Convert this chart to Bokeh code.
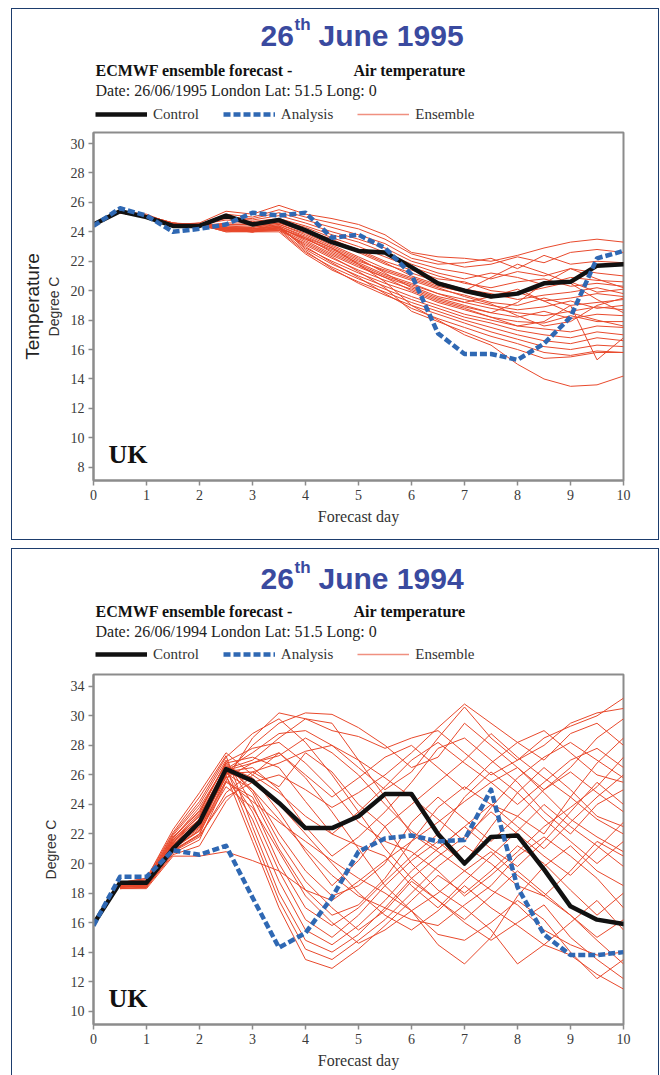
from bokeh.plotting import figure
from bokeh.models import (ColumnDataSource, Label, Legend, LegendItem, FixedTicker,
                          Range1d, LinearAxis)
from bokeh.layouts import column
from bokeh.embed import file_html
from bokeh.resources import INLINE

# ---------------- data ----------------
days = [0, 0.5, 1, 1.5, 2, 2.5, 3, 3.5, 4, 4.5, 5, 5.5, 6, 6.5, 7, 7.5, 8, 8.5, 9, 9.5, 10]
ens_days = [0.5, 1, 1.5, 2, 2.5, 3, 3.5, 4, 4.5, 5, 5.5, 6, 6.5, 7, 7.5, 8, 8.5, 9, 9.5, 10]
x_ticks = [0, 1, 2, 3, 4, 5, 6, 7, 8, 9, 10]

control_1995 = [24.5, 25.4, 25.0, 24.4, 24.4, 25.1, 24.5, 24.8, 24.1, 23.3, 22.7,
                22.6, 21.6, 20.5, 20.0, 19.6, 19.8, 20.5, 20.6, 21.7, 21.8]
analysis_1995 = [24.4, 25.6, 25.1, 24.0, 24.2, 24.5, 25.3, 25.1, 25.3, 23.6, 23.8,
                 22.9, 21.1, 17.1, 15.7, 15.7, 15.3, 16.4, 18.2, 22.2, 22.7]
ensemble_1995 = [
    [25.4, 25.2, 24.5, 24.6, 25.4, 25.2, 25.8, 25.2, 24.9, 24.5, 23.8, 22.6, 22.3, 22.2, 22.0, 22.4, 22.9, 23.3, 23.5, 23.3],
    [25.3, 25.1, 24.4, 24.5, 25.2, 25.0, 25.5, 25.0, 24.6, 24.2, 23.5, 22.5, 22.0, 21.6, 21.8, 22.3, 21.9, 22.6, 22.8, 22.6],
    [25.4, 25.1, 24.5, 24.4, 25.0, 24.9, 25.3, 24.8, 24.3, 23.8, 23.2, 22.2, 21.8, 21.9, 22.2, 21.5, 22.4, 21.8, 22.0, 21.9],
    [25.3, 25.0, 24.4, 24.5, 24.9, 24.8, 25.1, 24.6, 24.0, 23.5, 22.9, 22.0, 21.5, 21.2, 20.8, 21.3, 21.0, 21.5, 21.2, 21.0],
    [25.4, 25.1, 24.6, 24.5, 24.8, 24.7, 24.9, 24.4, 23.8, 23.3, 22.6, 21.8, 21.2, 20.8, 21.2, 20.9, 20.4, 20.9, 20.7, 20.6],
    [25.3, 25.0, 24.5, 24.4, 24.6, 24.6, 24.8, 24.3, 23.6, 23.0, 22.3, 21.6, 21.0, 20.5, 20.2, 20.6, 20.8, 20.3, 20.5, 20.3],
    [25.4, 25.1, 24.4, 24.5, 24.5, 24.5, 24.7, 24.2, 23.4, 22.8, 22.0, 21.4, 20.8, 20.6, 20.0, 19.8, 20.2, 20.6, 19.9, 20.1],
    [25.3, 25.0, 24.5, 24.4, 24.4, 24.4, 24.6, 24.0, 23.3, 22.6, 21.8, 21.2, 20.6, 20.1, 19.8, 19.4, 19.7, 19.9, 20.2, 19.8],
    [25.4, 25.1, 24.4, 24.6, 24.3, 24.3, 24.5, 23.9, 23.1, 22.3, 21.5, 20.9, 20.3, 19.9, 19.5, 19.9, 19.3, 19.5, 19.8, 19.6],
    [25.3, 25.0, 24.5, 24.5, 24.2, 24.2, 24.4, 23.7, 22.9, 22.1, 21.3, 20.7, 20.1, 19.7, 19.2, 19.0, 19.5, 19.0, 19.2, 19.4],
    [25.4, 25.1, 24.6, 24.4, 24.1, 24.1, 24.3, 23.5, 22.7, 21.9, 21.1, 20.5, 19.8, 19.4, 19.0, 18.7, 18.9, 19.3, 18.8, 19.0],
    [25.3, 25.0, 24.4, 24.5, 24.2, 24.0, 24.2, 23.3, 22.4, 21.6, 20.9, 20.3, 19.6, 19.2, 18.8, 18.5, 18.3, 18.6, 18.9, 18.7],
    [25.4, 25.1, 24.5, 24.4, 24.1, 24.1, 24.2, 23.1, 22.2, 21.4, 20.7, 20.1, 19.4, 18.9, 18.5, 18.2, 18.6, 18.1, 18.4, 18.3],
    [25.3, 25.0, 24.5, 24.5, 24.0, 24.0, 24.3, 22.9, 22.0, 21.2, 20.5, 19.9, 19.2, 18.7, 18.2, 17.9, 17.8, 18.3, 17.9, 17.9],
    [25.4, 25.1, 24.4, 24.4, 24.2, 24.2, 24.4, 22.8, 21.8, 21.0, 20.3, 19.6, 19.0, 18.4, 18.0, 17.6, 17.4, 17.2, 17.6, 17.5],
    [25.3, 25.0, 24.5, 24.5, 24.3, 24.1, 24.1, 22.6, 21.6, 20.8, 20.1, 19.4, 18.8, 18.2, 17.8, 17.3, 17.0, 16.8, 17.2, 17.0],
    [25.4, 25.1, 24.6, 24.4, 24.1, 24.0, 24.0, 22.5, 21.4, 20.6, 19.9, 19.2, 18.6, 18.0, 17.5, 17.0, 16.6, 16.4, 16.8, 16.6],
    [25.3, 25.0, 24.4, 24.5, 24.0, 24.1, 24.2, 22.7, 21.5, 20.5, 19.7, 19.0, 18.4, 17.8, 17.2, 16.7, 16.2, 16.0, 16.3, 16.2],
    [25.4, 25.1, 24.5, 24.4, 24.2, 24.0, 24.3, 23.0, 21.9, 20.9, 19.8, 18.8, 18.1, 17.5, 16.9, 16.4, 15.8, 15.6, 15.9, 15.8],
    [25.3, 25.0, 24.5, 24.5, 24.1, 24.0, 24.1, 23.2, 22.3, 21.3, 20.2, 18.6, 17.9, 17.2, 16.5, 16.0, 15.4, 15.5, 15.8, 15.8],
    [25.4, 25.1, 24.4, 24.4, 24.3, 24.1, 24.2, 23.6, 22.9, 21.8, 20.6, 19.0, 18.0, 17.0, 16.3, 15.0, 14.0, 13.5, 13.6, 14.2],
    [25.3, 25.0, 24.5, 24.5, 24.4, 24.3, 24.6, 24.1, 23.5, 22.7, 21.9, 21.0, 20.4, 20.0, 20.9, 21.8, 21.2, 20.5, 19.4, 18.5],
    [25.4, 25.1, 24.5, 24.4, 24.2, 24.2, 24.5, 23.8, 23.0, 22.2, 21.2, 20.2, 19.5, 19.0, 18.5, 19.2, 20.5, 21.5, 20.8, 20.2],
    [25.3, 25.0, 24.4, 24.5, 24.1, 24.0, 24.3, 23.4, 22.5, 21.7, 20.9, 20.0, 19.3, 18.8, 18.2, 17.6, 17.9, 19.0, 15.3, 16.8],
    [25.4, 25.1, 24.6, 24.4, 24.2, 24.1, 24.4, 23.6, 22.6, 21.8, 21.0, 20.4, 19.8, 19.2, 19.6, 20.1, 19.3, 18.5, 18.0, 17.6],
    [25.3, 25.0, 24.5, 24.5, 24.3, 24.2, 24.3, 23.5, 22.8, 22.0, 21.4, 20.8, 20.2, 19.6, 19.1, 18.3, 17.6, 17.9, 19.0, 19.5],
]

control_1994 = [15.9, 18.7, 18.7, 21.0, 22.8, 26.4, 25.6, 24.1, 22.4, 22.4, 23.2,
                24.7, 24.7, 22.0, 20.0, 21.8, 21.9, 19.6, 17.1, 16.2, 15.9]
analysis_1994 = [15.8, 19.1, 19.1, 20.9, 20.6, 21.2, 17.7, 14.3, 15.3, 17.7, 20.8,
                 21.7, 21.9, 21.5, 21.6, 25.0, 18.4, 15.2, 13.8, 13.8, 14.0]
ensemble_1994 = [
    [18.5, 18.6, 20.8, 22.0, 25.6, 28.5, 30.2, 29.8, 29.0, 28.6, 27.8, 28.5, 29.0, 27.5, 26.0, 27.0, 28.5, 29.3, 30.0, 31.2],
    [18.4, 18.5, 21.1, 22.5, 26.0, 28.0, 29.5, 30.2, 30.1, 29.2, 28.0, 26.5, 27.2, 29.5, 28.0, 26.5, 25.0, 26.5, 28.5, 29.8],
    [18.6, 18.8, 21.5, 23.0, 26.4, 27.5, 28.8, 29.0, 28.0, 26.5, 25.0, 26.2, 28.5, 30.6, 28.5, 27.0, 28.0, 29.5, 30.2, 30.5],
    [18.5, 18.4, 21.3, 22.8, 25.8, 26.8, 27.5, 26.0, 24.5, 25.8, 27.2, 28.0, 26.5, 25.0, 26.8, 28.2, 29.0, 27.5, 26.0, 25.5],
    [18.7, 18.9, 21.8, 23.5, 26.8, 27.2, 26.5, 24.2, 22.0, 23.5, 25.2, 27.0, 28.2, 26.8, 25.5, 24.0, 25.5, 27.0, 27.8, 26.5],
    [18.4, 18.6, 21.0, 22.2, 26.2, 26.5, 25.0, 22.5, 20.5, 21.8, 23.5, 25.5, 27.8, 28.5, 27.0, 25.5, 23.5, 22.0, 24.0, 25.0],
    [18.6, 18.7, 21.6, 23.2, 26.6, 25.8, 23.5, 20.8, 18.5, 20.2, 22.5, 24.0, 25.5, 27.0, 28.8, 27.2, 25.8, 24.5, 23.0, 22.0],
    [18.5, 18.5, 21.4, 23.0, 26.1, 25.0, 22.0, 19.5, 17.8, 18.5, 20.0, 22.8, 24.5, 23.0, 21.5, 23.2, 25.0, 26.2, 24.8, 23.5],
    [18.3, 18.4, 20.7, 21.6, 25.5, 24.5, 21.0, 18.2, 16.5, 17.2, 19.0, 21.5, 23.8, 25.2, 24.0, 22.5, 21.0, 22.8, 24.5, 26.0],
    [18.6, 18.8, 21.9, 24.0, 27.0, 24.0, 20.0, 17.0, 15.8, 17.0, 18.8, 20.5, 22.0, 24.5, 26.2, 24.8, 23.0, 21.5, 20.0, 21.5],
    [18.5, 18.6, 21.2, 22.6, 26.3, 23.5, 19.5, 16.2, 15.0, 16.5, 18.5, 20.2, 21.5, 20.0, 22.5, 24.8, 26.5, 25.0, 23.2, 22.5],
    [18.4, 18.5, 20.9, 22.0, 25.9, 23.0, 18.8, 15.5, 14.5, 15.8, 17.5, 19.5, 21.0, 22.5, 21.0, 19.8, 21.5, 23.5, 25.5, 24.0],
    [18.7, 19.0, 22.1, 24.5, 27.3, 22.5, 18.0, 14.8, 14.0, 15.2, 17.0, 19.0, 20.5, 21.8, 23.5, 22.0, 20.5, 19.2, 21.0, 22.8],
    [18.5, 18.7, 21.4, 23.3, 26.5, 22.0, 17.5, 14.2, 13.5, 14.8, 16.2, 18.0, 19.8, 21.2, 20.0, 18.5, 17.8, 19.5, 21.5, 20.5],
    [18.4, 18.5, 21.1, 22.4, 26.0, 21.5, 17.0, 13.5, 12.9, 14.2, 15.8, 17.5, 19.2, 18.0, 19.5, 21.2, 20.0, 18.2, 16.5, 18.0],
    [18.6, 18.8, 21.7, 23.6, 26.8, 24.8, 21.5, 18.8, 17.0, 15.5, 16.8, 18.8, 17.5, 16.2, 17.8, 19.5, 18.0, 16.5, 15.0, 16.2],
    [18.5, 18.6, 21.3, 22.9, 26.2, 25.5, 24.0, 22.0, 20.0, 18.0, 16.5, 15.5, 16.8, 18.5, 17.0, 15.8, 14.5, 16.0, 17.5, 15.5],
    [18.3, 18.4, 20.6, 21.2, 24.2, 26.0, 27.5, 25.8, 23.5, 21.0, 18.5, 16.8, 15.2, 14.8, 16.0, 17.5, 16.2, 14.0, 12.2, 13.5],
    [18.6, 18.9, 22.0, 24.2, 27.2, 28.8, 29.8, 28.2, 26.0, 23.5, 21.0, 19.0, 17.5, 16.0, 14.8, 16.0, 17.2, 15.0, 13.5, 12.2],
    [18.4, 18.5, 20.8, 21.8, 24.8, 26.2, 25.2, 27.5, 26.2, 24.0, 22.5, 20.0, 18.2, 17.0, 15.5, 13.2, 14.5, 13.8, 12.5, 11.5],
    [18.5, 18.7, 21.5, 23.2, 26.4, 27.0, 28.5, 29.8, 29.5, 27.0, 24.5, 22.0, 20.8, 19.5, 18.2, 17.2, 15.5, 14.5, 13.8, 14.0],
    [18.7, 19.0, 22.3, 24.8, 27.5, 26.0, 24.8, 23.2, 22.0, 21.2, 20.5, 18.5, 17.0, 18.8, 20.5, 22.2, 24.0, 22.5, 21.2, 19.8],
    [18.4, 18.6, 21.0, 22.3, 25.6, 24.2, 22.8, 21.5, 20.2, 19.0, 18.0, 16.8, 14.5, 13.2, 15.0, 17.8, 19.8, 21.2, 19.5, 18.5],
    [18.6, 18.7, 21.6, 23.4, 26.9, 27.8, 28.2, 26.8, 25.0, 22.8, 21.5, 20.8, 19.5, 17.8, 19.2, 20.8, 22.5, 23.8, 25.2, 27.2],
    [18.5, 18.5, 21.3, 22.7, 26.1, 26.2, 26.8, 27.6, 28.0, 27.0, 25.8, 24.5, 23.0, 21.5, 23.8, 25.8, 27.2, 28.2, 27.0, 25.8],
    [18.4, 18.4, 20.9, 21.9, 24.5, 25.5, 26.0, 25.0, 23.8, 24.8, 26.0, 27.5, 29.2, 30.8, 29.5, 28.2, 27.0, 28.8, 29.5, 28.0],
    [18.6, 18.8, 21.7, 23.8, 26.7, 25.0, 23.0, 21.0, 19.2, 17.8, 17.0, 16.2, 15.8, 17.2, 18.5, 20.5, 21.8, 20.5, 19.0, 17.0],
    [18.5, 18.6, 21.2, 22.5, 26.3, 26.8, 27.3, 28.5, 27.5, 26.0, 24.0, 22.2, 21.0, 22.5, 24.0, 23.2, 22.0, 24.5, 26.8, 28.5],
    [18.3, 18.3, 20.5, 20.5, 20.8, 20.2, 19.5, 18.2, 17.5, 18.8, 20.2, 21.5, 22.8, 24.2, 25.5, 26.5, 24.8, 23.0, 21.8, 20.8],
    [18.5, 18.6, 21.1, 22.2, 25.2, 23.8, 20.8, 17.8, 16.0, 14.6, 15.5, 16.8, 18.0, 19.5, 20.8, 19.2, 17.8, 16.5, 14.8, 13.2],
]

y_ticks_1995 = [8, 10, 12, 14, 16, 18, 20, 22, 24, 26, 28, 30]
y_ticks_1994 = [10, 12, 14, 16, 18, 20, 22, 24, 26, 28, 30, 32]
y_label_overrides_1994 = {32: "34"}

# ---------------- styling ----------------
NAVY = "#1d3d6d"
TITLE_BLUE = "#3a4a9f"
RED = "#e8492c"
RED_LEGEND = "#f09080"
BLUE = "#2f68b3"
GRAY = "#8c8c8c"
SERIF = "Liberation Serif"
SANS = "Liberation Sans"
W = 646
HEADER_H = 118
NAN = float("nan")


def add_text(p, text, sx, sy, size, font, style="normal", color="#222222",
             align="left", baseline="alphabetic"):
    p.add_layout(Label(x=sx, y=sy, x_units="screen", y_units="screen", text=text,
                       text_font=font, text_font_size=f"{size}px",
                       text_font_style=style, text_color=color,
                       text_align=align, text_baseline=baseline))


def make_header(year, dy):
    """Title block + legend; frame aligned horizontally with the plot frame."""
    h = figure(width=W, height=HEADER_H, output_backend="svg", toolbar_location=None,
               title=None, x_range=Range1d(0, 530), y_range=Range1d(0, HEADER_H),
               x_axis_type=None, y_axis_type=None,
               min_border_left=81, min_border_right=35, min_border_top=0,
               min_border_bottom=0, outline_line_color=None,
               background_fill_color="white", border_fill_color="white")
    h.xgrid.visible = False
    h.ygrid.visible = False
    add_text(h, "26", 167, 92 - dy, 30, SANS, "bold", TITLE_BLUE)
    add_text(h, "th", 201, 103 - dy, 17, SANS, "bold", TITLE_BLUE)
    add_text(h, f"June {year}", 225, 92 - dy, 30, SANS, "bold", TITLE_BLUE)
    add_text(h, "ECMWF ensemble forecast -", 2, 57 - dy // 3, 16, SERIF, "bold",
             "#111111", baseline="middle")
    add_text(h, "Air temperature", 372, 57 - dy // 3, 16, SERIF, "bold", "#111111",
             align="right", baseline="middle")
    add_text(h, f"Date: 26/06/{year} London Lat: 51.5 Long: 0", 2, 37 - dy // 3, 16,
             SERIF, baseline="middle")
    # legend samples take their styles from these renderers (no visible data)
    r_c = h.line([NAN], [NAN], line_color="#111111", line_width=4.5)
    r_a = h.line([NAN], [NAN], line_color=BLUE, line_width=4.5, line_dash="7 3")
    r_e = h.line([NAN], [NAN], line_color=RED_LEGEND, line_width=1.5)
    legend = Legend(items=[LegendItem(label="Control", renderers=[r_c]),
                           LegendItem(label="Analysis", renderers=[r_a]),
                           LegendItem(label="Ensemble", renderers=[r_e])],
                    orientation="horizontal", location=(2, 4),
                    glyph_width=52, glyph_height=18, label_standoff=6, spacing=24,
                    padding=0, margin=0, background_fill_alpha=0,
                    border_line_color=None, label_text_font=SERIF,
                    label_text_font_size="15px", label_text_color="#333333")
    h.add_layout(legend)
    return h


def make_plot(control, analysis, ensemble, y_range, y_ticks, overrides,
              height, border_top, border_bottom, temperature_label, ylabel_standoff):
    p = figure(width=W, height=height, output_backend="svg", toolbar_location=None,
               title=None, x_range=Range1d(0, 10), y_range=Range1d(*y_range),
               min_border_left=81, min_border_right=35,
               min_border_top=border_top, min_border_bottom=border_bottom,
               background_fill_color="white", border_fill_color="white")
    p.xgrid.visible = False
    p.ygrid.visible = False
    p.outline_line_color = GRAY
    p.outline_line_width = 2

    p.xaxis.ticker = FixedTicker(ticks=x_ticks)
    p.yaxis.ticker = FixedTicker(ticks=y_ticks)
    if overrides:
        p.yaxis.major_label_overrides = overrides
    for ax in (p.xaxis, p.yaxis):
        ax.axis_line_color = GRAY
        ax.axis_line_width = 2
        ax.major_tick_line_color = GRAY
        ax.major_tick_line_width = 1.5
        ax.major_tick_out = 5
        ax.major_tick_in = 0
        ax.minor_tick_line_color = None
        ax.major_label_text_font = SERIF
        ax.major_label_text_font_size = "14px"
        ax.major_label_text_color = "#3a3a3a"
        ax.major_label_standoff = 4
        ax.axis_label_text_font_style = "normal"
    p.xaxis.axis_label = "Forecast day"
    p.xaxis.axis_label_text_font = SERIF
    p.xaxis.axis_label_text_font_size = "16px"
    p.xaxis.axis_label_text_color = "#333333"
    p.xaxis.axis_label_standoff = 5
    p.yaxis.axis_label = "Degree C"
    p.yaxis.axis_label_text_font = SANS
    p.yaxis.axis_label_text_font_size = "14px"
    p.yaxis.axis_label_text_color = "#333333"
    p.yaxis.axis_label_standoff = ylabel_standoff
    if temperature_label:
        t_axis = LinearAxis(ticker=FixedTicker(ticks=[]), axis_label="Temperature",
                            axis_line_color=None, major_tick_line_color=None,
                            minor_tick_line_color=None,
                            axis_label_text_font=SANS,
                            axis_label_text_font_size="19px",
                            axis_label_text_font_style="normal",
                            axis_label_text_color="#222222",
                            axis_label_standoff=0)
        p.add_layout(t_axis, "left")

    ens_src = ColumnDataSource(dict(xs=[ens_days] * len(ensemble), ys=ensemble))
    p.multi_line("xs", "ys", source=ens_src, line_color=RED, line_width=1)
    p.line(days, control, line_color="#111111", line_width=4.5,
           line_join="round", line_cap="round")
    p.line(days, analysis, line_color=BLUE, line_width=4.5, line_dash="7 3",
           line_join="round")

    p.add_layout(Label(x=15, y=12, x_units="screen", y_units="screen", text="UK",
                       text_font=SERIF, text_font_size="26px", text_font_style="bold",
                       text_color="#111111"))
    return p


h1 = make_header("1995", 0)
p1 = make_plot(control_1995, analysis_1995, ensemble_1995, (7.1, 30.75),
               y_ticks_1995, None, 412, 5, 59, True, 6)
h2 = make_header("1994", 3)
p2 = make_plot(control_1994, analysis_1994, ensemble_1994, (9.1, 32.8),
               y_ticks_1994, y_label_overrides_1994, 408, 7, 51, False, 9)

panel1 = column(h1, p1, spacing=0, styles={"border": f"1px solid {NAVY}"})
panel2 = column(h2, p2, spacing=0, styles={"border-top": f"1px solid {NAVY}",
                                          "border-left": f"1px solid {NAVY}",
                                          "border-right": f"1px solid {NAVY}"})
layout = column(panel1, panel2, spacing=8,
                styles={"margin-left": "11px", "margin-top": "8px"})
open("out.html", "w").write(file_html(layout, INLINE))
